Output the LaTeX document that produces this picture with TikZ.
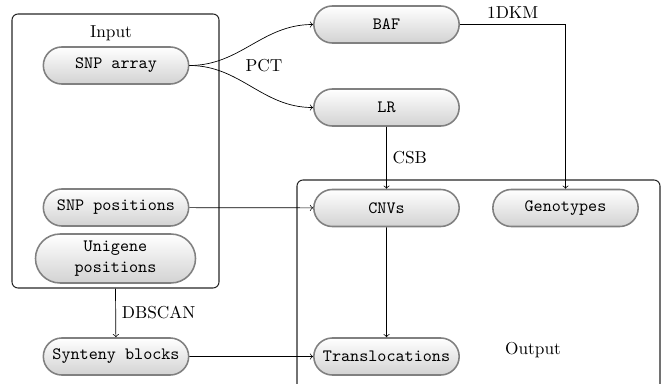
\documentclass[tikz,border=0pt]{standalone}
\usepackage{tikz}
\usetikzlibrary{arrows,shapes.misc,fit}

\begin{document}
\begin{tikzpicture}[x=0.578pt,y=-0.578pt,->,>=to,auto,
  data node/.style={rounded rectangle,draw=black!50,line width=0.9pt,top color=white,
    bottom color=gray!35,font=\ttfamily,minimum width=88pt,minimum height=21.4pt,
    inner sep=2pt},
  group box/.style={draw=black!85,semithick,rounded corners=3.5pt,inner sep=0pt}]

\useasboundingbox (0,0) rectangle (664,383);

% inputs
\node[data node] (snp) at (116,65.5) {SNP array};
\node[data node] (snppos) at (116,207.5) {SNP positions};
\node[data node,align=center,minimum width=96.5pt,minimum height=28.3pt]
  (unigene) at (115.5,258.5) {Unigene\\positions};
\node[group box,-,fit={(12,14) (219,288)}] (input) {};
\node (inputlabel) at (111,33) {Input};

% intermediate signals
\node[data node] (baf) at (386.5,24.5) {BAF};
\node[data node] (lr) at (386.5,107.5) {LR};
\node[data node] (synteny) at (116,356.5) {Synteny blocks};

% outputs
\node[data node] (cnv) at (386.5,208) {CNVs};
\node[data node] (geno) at (565.5,208) {Genotypes};
\node[data node] (transloc) at (386.5,356.5) {Translocations};
\node[group box,-,fit={(297,180) (660,400)}] (output) {};
\node (outputlabel) at (533,350) {Output};

\node (pct) at (264,66) {PCT};

\path[every node/.style={font=\normalsize}]
(snp) edge [out=0,in=180] (baf.west)
(snp) edge [out=0,in=180] (lr.west)
(lr) edge node {CSB} (cnv)
(snppos) edge (cnv)
(input.south) edge node {DBSCAN} (synteny)
(synteny) edge (transloc)
(cnv) edge (transloc);

\draw (baf.east) -| node[pos=0.25,above] {1DKM} (geno.north);

\end{tikzpicture}
\end{document}
